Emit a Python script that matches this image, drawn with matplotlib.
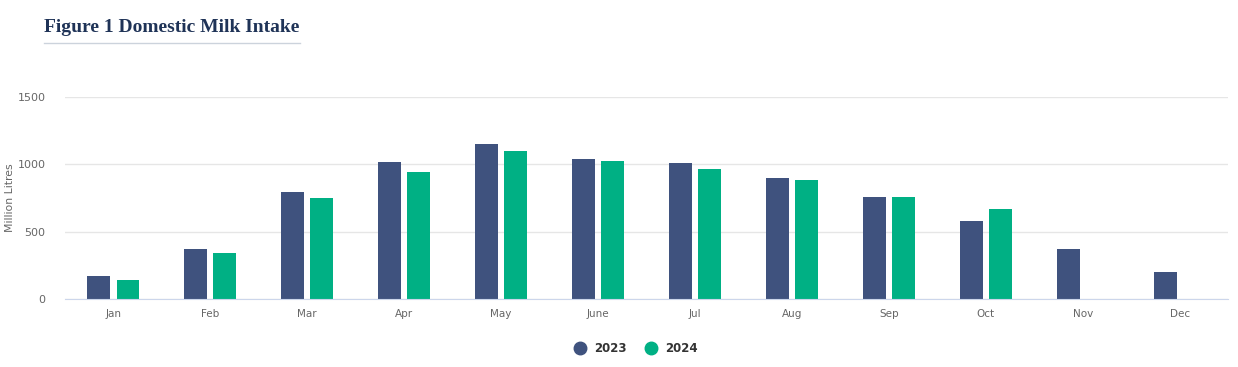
"""Figure 1 Domestic Milk Intake - grouped bars, 2023 vs 2024."""
import matplotlib

matplotlib.use("Agg")
import matplotlib.pyplot as plt  # noqa: E402
import numpy as np  # noqa: E402
from matplotlib.lines import Line2D  # noqa: E402

MONTHS = ["Jan", "Feb", "Mar", "Apr", "May", "June",
          "Jul", "Aug", "Sep", "Oct", "Nov", "Dec"]
INTAKE_2023 = [171, 371, 795, 1018, 1152, 1040, 1010, 899, 758, 580, 371, 200]
INTAKE_2024 = [141, 342, 750, 944, 1100, 1025, 966, 884, 758, 669, None, None]
Y_TICKS = [0, 500, 1000, 1500]

C_2023 = "#3f527e"
C_2024 = "#00b084"
TXT = "#666666"

fig = plt.figure(figsize=(12.38, 3.67), dpi=100)
ax = fig.add_axes([0.0525, 0.1853, 0.9395, 0.5504])

x = np.arange(len(MONTHS))
w = 0.237
off = 0.15
ax.bar(x[:len(INTAKE_2023)] - off, INTAKE_2023, width=w, color=C_2023, zorder=2)
v24 = [v for v in INTAKE_2024 if v is not None]
ax.bar(x[:len(v24)] + off, v24, width=w, color=C_2024, zorder=2)

ax.set_xlim(-0.5, len(MONTHS) - 0.5)
ax.set_ylim(0, 1500)
ax.set_yticks(Y_TICKS)
ax.set_yticklabels([str(t) for t in Y_TICKS], color=TXT, fontsize=8)
ax.set_xticks(x)
ax.set_xticklabels(MONTHS, color=TXT, fontsize=7.5)
ax.tick_params(axis="both", length=0)
ax.tick_params(axis="y", pad=14)
ax.tick_params(axis="x", pad=7)
ax.grid(axis="y", color="#e6e6e6", lw=1, zorder=0)
for side in ("top", "right", "left"):
    ax.spines[side].set_visible(False)
ax.spines["bottom"].set_color("#ccd6eb")
ax.set_ylabel("Million Litres", color=TXT, fontsize=7.8)
ax.yaxis.set_label_coords(-0.043, 0.5)

# title with thin rule underneath
fig.text(44 / 1238, 1 - 28 / 367, "Figure 1 Domestic Milk Intake",
         family="Liberation Serif", fontweight="bold", fontsize=14,
         color="#1f3357", va="center", ha="left")
fig.add_artist(Line2D([44 / 1238, 300 / 1238], [1 - 43 / 367] * 2,
                      color="#ccd3dc", lw=1))

handles = [Line2D([], [], marker="o", ls="", color=c, markersize=9)
           for c in (C_2023, C_2024)]
leg = fig.legend(handles, ["2023", "2024"], loc="center",
                 bbox_to_anchor=(633 / 1238, 1 - 349 / 367), ncol=2,
                 frameon=False, handletextpad=0.2, columnspacing=1.0,
                 prop={"weight": "bold", "size": 8.5})
for t in leg.get_texts():
    t.set_color("#333333")

fig.savefig("out.png", dpi=100)
